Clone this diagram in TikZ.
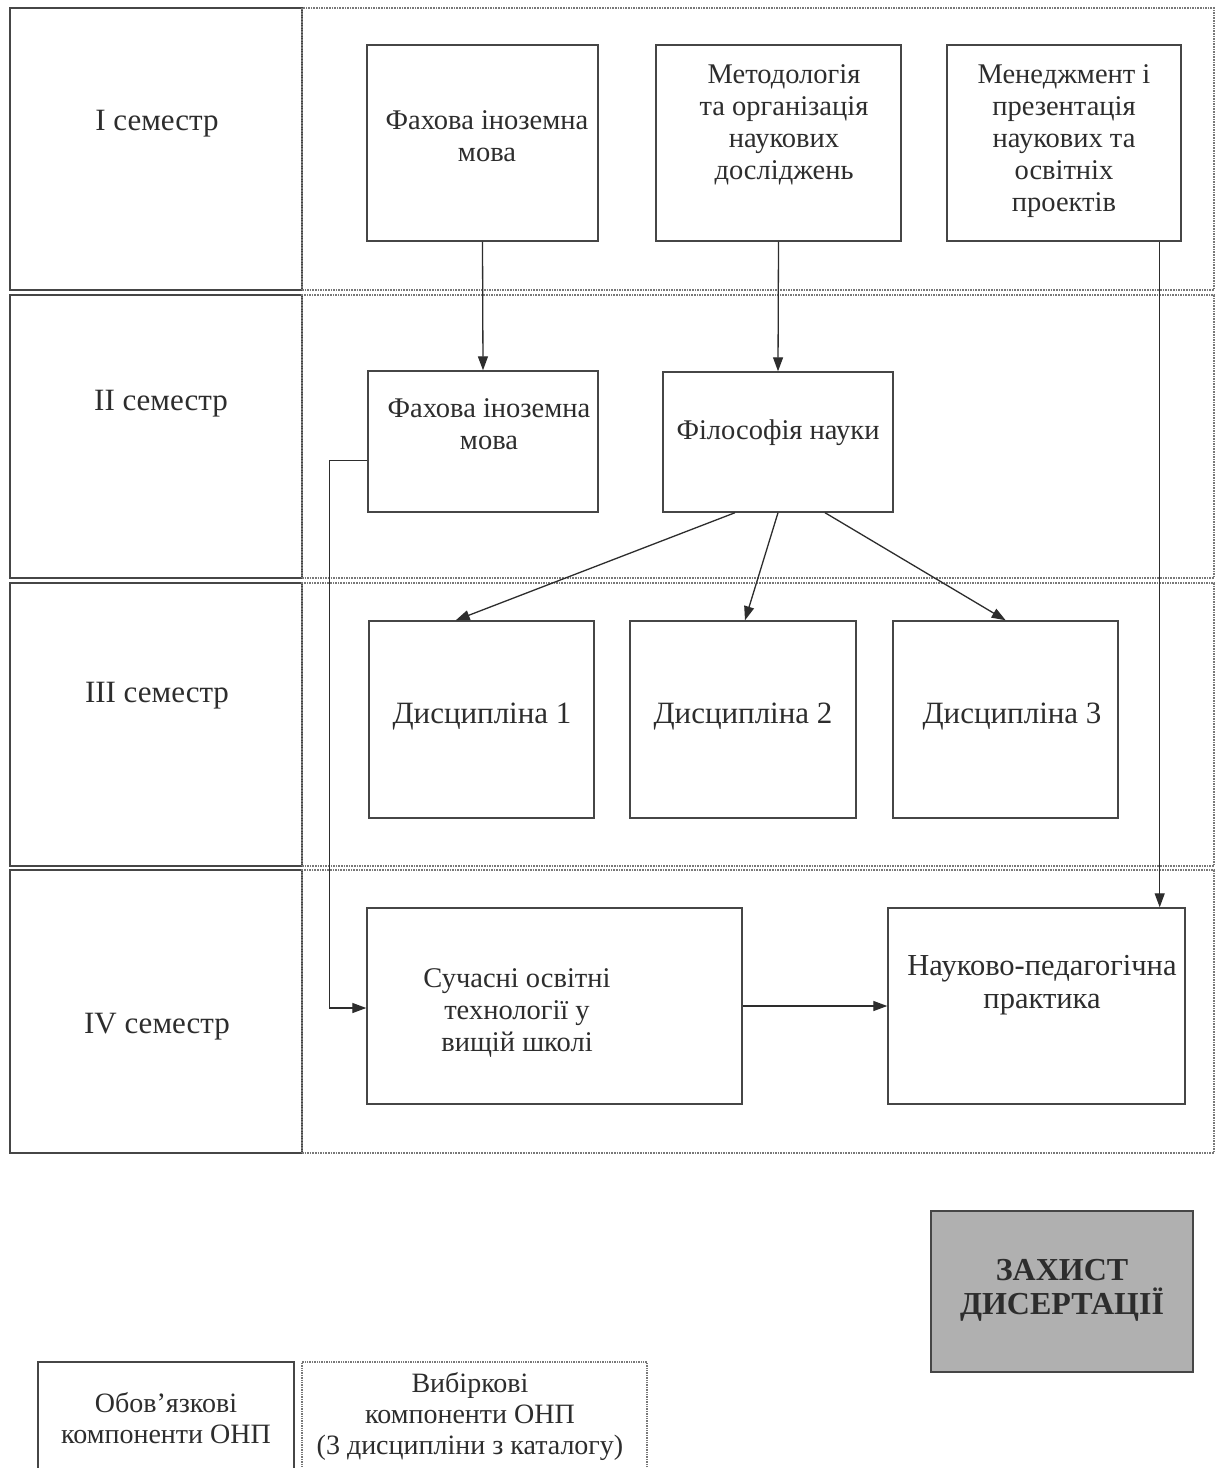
\documentclass[tikz,border=0pt]{standalone}
\usepackage{fontspec}
\setmainfont{Liberation Serif}
\usetikzlibrary{arrows.meta}
\definecolor{ink}{RGB}{45,45,45}
\definecolor{frame}{RGB}{70,70,70}
\definecolor{dotc}{RGB}{120,120,120}
\definecolor{defgray}{RGB}{176,176,176}
\tikzset{
  semcell/.style={draw=frame, line width=1.6pt, rectangle},
  optcell/.style={draw=dotc, densely dotted, line width=1.6pt, rectangle},
  box/.style={draw=frame, line width=1.4pt, rectangle, inner sep=0pt},
  txt/.style={text=ink, align=center, inner sep=0pt, font=\fontsize{28.5}{32}\selectfont},
  semtxt/.style={text=ink, inner sep=0pt, font=\fontsize{31}{34}\selectfont},
  bigtxt/.style={text=ink, inner sep=0pt, font=\fontsize{31}{34}\selectfont},
  legtxt/.style={text=ink, align=center, inner sep=0pt, font=\fontsize{28}{31}\selectfont},
  arr/.style={draw=ink, line width=1.3pt, -{Triangle[length=14pt,width=10pt]}},
}
\newcommand{\boxat}[5]{\node[box, minimum width=#4-#2, minimum height=#5-#3] (#1) at ({(#2+#4)/2},{(#3+#5)/2}) {};}
\begin{document}
\begin{tikzpicture}[x=1pt,y=-1pt]
\clip (0,0) rectangle (1220,1468);
\fill[white] (0,0) rectangle (1220,1468);
% semester rows
\node[semcell, minimum width=292, minimum height=282] (s1) at (156,149) {};
\node[semcell, minimum width=292, minimum height=283] (s2) at (156,436.5) {};
\node[semcell, minimum width=292, minimum height=283] (s3) at (156,724.5) {};
\node[semcell, minimum width=292, minimum height=283] (s4) at (156,1011.5) {};
\node[optcell, minimum width=912, minimum height=282] (r1) at (758,149) {};
\node[optcell, minimum width=912, minimum height=283] (r2) at (758,436.5) {};
\node[optcell, minimum width=912, minimum height=283] (r3) at (758,724.5) {};
\node[optcell, minimum width=912, minimum height=283] (r4) at (758,1011.5) {};
\node[semtxt] (l1) at (157,124) {I семестр};
\node[semtxt] (l2) at (161,404) {II семестр};
\node[semtxt] (l3) at (157,696) {III семестр};
\node[semtxt] (l4) at (157,1027) {IV семестр};
% boxes
\boxat{fa}{367}{45}{598}{241}
\boxat{me}{656}{45}{901}{241}
\boxat{mn}{947}{45}{1181}{241}
\boxat{fb}{368}{371}{598}{512}
\boxat{fi}{663}{372}{893}{512}
\boxat{d1}{369}{621}{594}{818}
\boxat{d2}{630}{621}{856}{818}
\boxat{d3}{893}{621}{1118}{818}
\boxat{su}{367}{908}{742}{1104}
\boxat{np}{888}{908}{1185}{1104}
\node[draw=frame, fill=defgray, line width=1.4pt, minimum width=262, minimum height=161] (zd) at (1062,1291.5) {};
% texts
\node[txt] (tfa) at (487,136) {Фахова іноземна\\мова};
\node[txt] (tme) at (784,125) {Методологія\\та організація\\наукових\\досліджень};
\node[txt] (tmn) at (1064,141) {Менеджмент і\\презентація\\наукових та\\освітніх\\проектів};
\node[txt] (tfb) at (489,424) {Фахова іноземна\\мова};
\node[txt] (tfi) at (778,433) {Філософія науки};
\node[bigtxt] (td1) at (482,717) {Дисципліна 1};
\node[bigtxt] (td2) at (743,717) {Дисципліна 2};
\node[bigtxt] (td3) at (1012,717) {Дисципліна 3};
\node[txt] (tsu) at (517,1013) {Сучасні освітні\\технології у\\вищій школі};
\node[txt, font=\fontsize{30.5}{33}\selectfont] (tnp) at (1042,985) {Науково-педагогічна\\практика};
\node[text=ink, align=center, inner sep=0pt, font=\fontsize{32}{34}\selectfont\bfseries] (tzd) at (1062,1290) {ЗАХИСТ\\ДИСЕРТАЦІЇ};
% legend
\node[semcell, line width=1.4pt, minimum width=256, minimum height=130] (lg1) at (166,1427) {};
\node[optcell, line width=1.4pt, minimum width=345, minimum height=130] (lg2) at (474.5,1427) {};
\node[legtxt] (tlg1) at (166,1418) {Обов’язкові\\компоненти ОНП};
\node[legtxt] (tlg2) at (470,1416) {Вибіркові\\компоненти ОНП\\(3 дисципліни з каталогу)};
% connectors
\draw[arr] (fa.south) -- (fb.north);
\draw[arr] (me.south) -- (fi.north);
\draw[arr] ([xshift=-22pt]mn.south east) -- ([xshift=-26pt]np.north east);
\draw[arr] ([yshift=-19pt]fb.west) -- ++(-38,0) |- ([yshift=-2pt]su.west);
\draw[arr] ([xshift=-43pt]fi.south) -- ([xshift=-139pt]d1.north east);
\draw[arr] (fi.south) -- ([xshift=2pt]d2.north);
\draw[arr] ([xshift=47pt]fi.south) -- ([xshift=-113pt]d3.north east);
\draw[arr] (su.east) -- (np.west);
\end{tikzpicture}
\end{document}
